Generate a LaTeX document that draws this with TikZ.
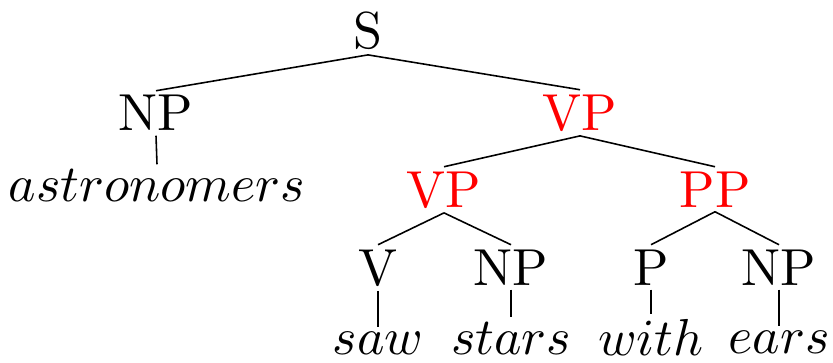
\documentclass[tikz,border=0pt]{standalone}
\begin{document}
\begin{tikzpicture}[x=0.2mm,y=-0.2mm,
    every node/.style={anchor=base,inner sep=0.25mm,font=\fontsize{10}{12}\selectfont,
      scale=2.96,transform shape},
    hl/.style={text=red}]
      \useasboundingbox (0,0) rectangle (833,363);
      \draw
        (368,49) node (s){S}
        (156,131) node (np){NP}
        (580,130) node[hl] (vp){VP}
        (157,201) node (astro){$astronomers$}
        (444,207) node[hl] (vpb){VP}
        (715,207) node[hl] (pp){PP}
        (378,285) node (v){V}
        (511,285) node (npb){NP}
        (651,285) node (p){P}
        (779,285) node (npc){NP}
        (378,354) node (saw){$saw$}
        (511,354) node (stars){$stars$}
        (651,355) node (with){$with$}
        (779,353) node (ears){$ears$};
      \begin{scope}[line width=0.9pt]
        \draw (s.south) to (np.north);
        \draw (s.south) to (vp.north);
        \draw (np.south) to (astro.north);
        \draw (vp.south) to (vpb.north);
        \draw (vp.south) to (pp.north);
        \draw (vpb.south) to (v.north);
        \draw (vpb.south) to (npb.north);
        \draw (pp.south) to (p.north);
        \draw (pp.south) to (npc.north);
        \draw (v.south) to (saw.north);
        \draw (npb.south) to (stars.north);
        \draw (p.south) to (with.north);
        \draw (npc.south) to (ears.north);
      \end{scope}
    \end{tikzpicture}
\end{document}
